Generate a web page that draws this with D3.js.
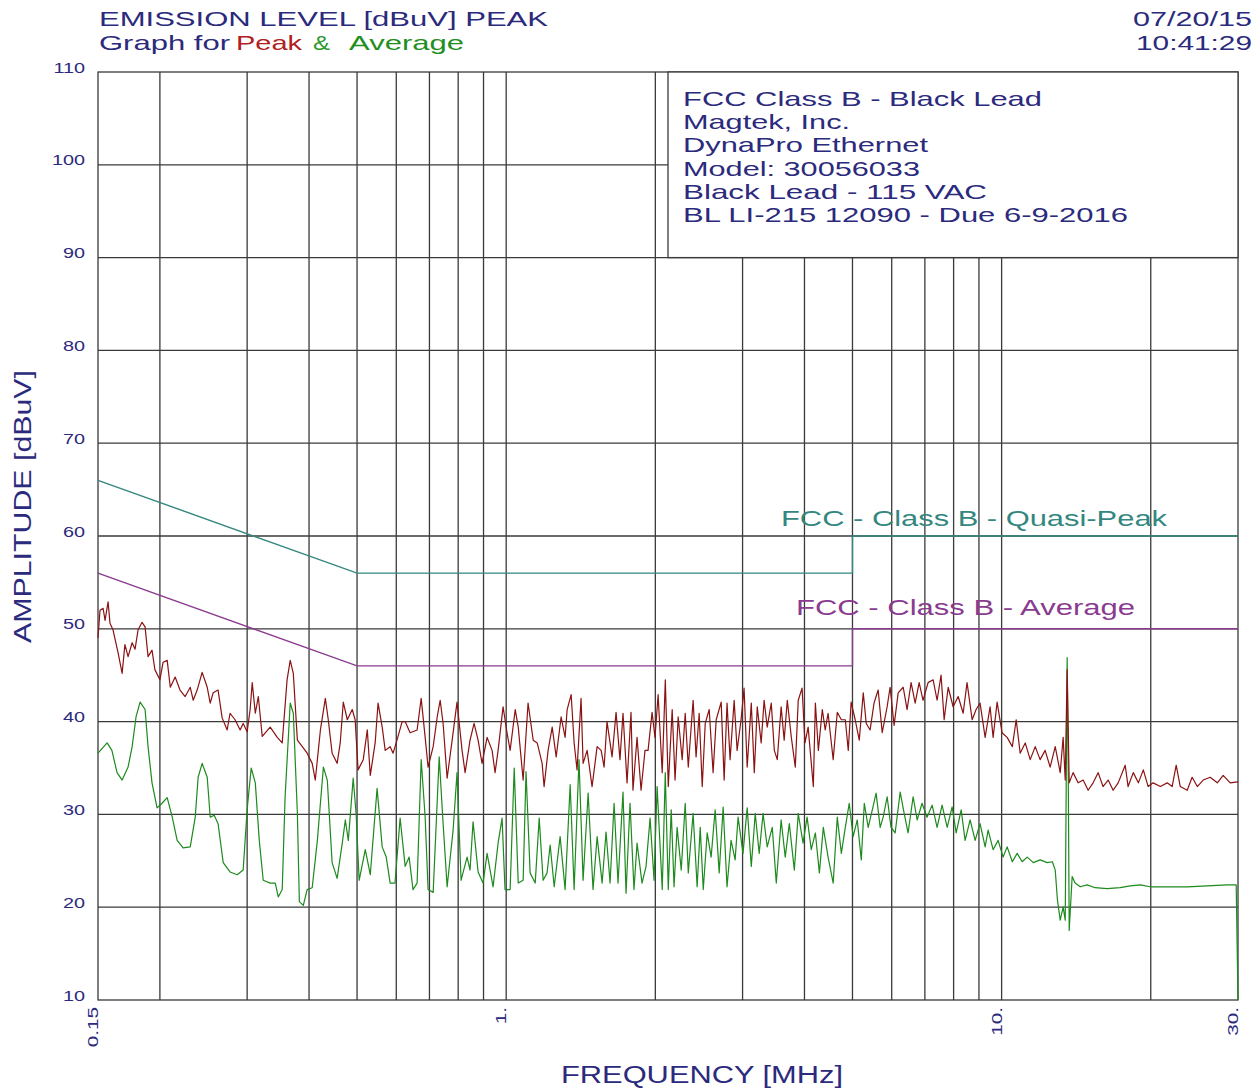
<!DOCTYPE html>
<html lang="en">
<head>
<meta charset="UTF-8">
<title>Emission Level - Peak & Average</title>
<script src="https://d3js.org/d3.v7.min.js"></script>
<style>
  body { margin: 0; background: #fff; }
  svg { display: block; }
  text { font-family: "Liberation Sans", Arial, sans-serif; }
  .grid { stroke: #3a3a3a; stroke-width: 1.3; }
  .navy { fill: #2b2a7c; }
</style>
</head>
<body>
<svg id="chart" width="1259" height="1089"></svg>
<script>
// ---- data ----
const freqLabels = ["0.15", "1.", "10.", "30."];
const freqLabelValues = [0.15, 1, 10, 30];
const gridFreqs = [0.2, 0.3, 0.4, 0.5, 0.6, 0.7, 0.8, 0.9, 1, 2, 3, 4, 5, 6, 7, 8, 9, 10, 20];
const ampTicks = [10, 20, 30, 40, 50, 60, 70, 80, 90, 100, 110];

// FCC Class B conducted limits
const limitFreq = [0.15, 0.5, 5, 5, 30];
const qpLimit = [66, 56, 56, 60, 60];
const avLimit = [56, 46, 46, 50, 50];

const legendLines = [
  "FCC Class B - Black Lead",
  "Magtek, Inc.",
  "DynaPro Ethernet",
  "Model: 30056033",
  "Black Lead - 115 VAC",
  "BL LI-215 12090 - Due 6-9-2016"
];

// peak sweep (MHz, dBuV)
const peakFreq = [
  0.150, 0.1514, 0.1536, 0.1550, 0.1572, 0.1586, 0.1608, 0.1647, 0.1678, 0.1700,
  0.1725, 0.1758, 0.1782, 0.1807, 0.1841, 0.1867, 0.1893, 0.1928, 0.1954, 0.2000,
  0.2030, 0.2069, 0.2099, 0.2147, 0.2196, 0.2249, 0.2303, 0.2335, 0.2378, 0.2434,
  0.2492, 0.2527, 0.2562, 0.2621, 0.2671, 0.2734, 0.2771, 0.2836, 0.2904, 0.2945,
  0.3000, 0.3042, 0.3072, 0.3116, 0.3160, 0.3218, 0.3339, 0.3451, 0.3531, 0.3612,
  0.3665, 0.3718, 0.3789, 0.3877, 0.3965, 0.4059, 0.4118, 0.4217, 0.4315, 0.4374,
  0.4453, 0.4558, 0.4624, 0.4690, 0.4779, 0.4889, 0.4956, 0.5024, 0.5146, 0.5244,
  0.5317, 0.5439, 0.5513, 0.5620, 0.5699, 0.5832,
  0.5912, 0.6020, 0.6166, 0.6253, 0.6398, 0.6610, 0.6736, 0.6862, 0.6956, 0.7122,
  0.7257, 0.7358, 0.7459, 0.7600, 0.7779, 0.7957, 0.8146, 0.8262, 0.8454, 0.8614,
  0.8776, 0.8939, 0.9151, 0.9366, 0.9496, 0.9631, 0.9856, 1.0039, 1.0185, 1.0429,
  1.0576, 1.0820, 1.1070, 1.1337, 1.1551, 1.1818, 1.1925, 1.2151, 1.2384, 1.2616,
  1.2907, 1.3150, 1.3275, 1.3525, 1.3713, 1.3900, 1.4162, 1.4297, 1.4568, 1.4905,
  1.5259, 1.5547, 1.5763, 1.5978, 1.6359, 1.6664, 1.6969, 1.7211, 1.7537, 1.7862,
  1.8026, 1.8371, 1.8716, 1.9064, 1.9336, 1.9700, 1.997, 2.026, 2.065, 2.095, 2.124,
  2.163, 2.192, 2.224, 2.266, 2.298, 2.331, 2.384, 2.417, 2.452, 2.487, 2.522, 2.569,
  2.616, 2.654, 2.716, 2.754, 2.791, 2.831, 2.885, 2.925, 2.979, 3.021, 3.065, 3.124,
  3.168, 3.212, 3.271, 3.316, 3.364, 3.428, 3.477, 3.525, 3.589, 3.640, 3.693, 3.763,
  3.833, 3.886, 3.956, 4.010, 4.069, 4.168, 4.208, 4.267, 4.346, 4.405, 4.464, 4.571,
  4.659, 4.748, 4.836, 4.903, 4.969, 5.063, 5.160, 5.257, 5.330, 5.427, 5.527, 5.634,
  5.741, 5.874, 5.955, 6.067, 6.183, 6.329, 6.445, 6.566, 6.691, 6.816, 6.941, 7.105,
  7.274, 7.409, 7.547, 7.656, 7.801, 7.982, 8.172, 8.363, 8.516, 8.720, 8.882, 9.047,
  9.263, 9.478, 9.613, 9.793, 10.02, 10.26, 10.51, 10.70, 10.90, 11.16, 11.42, 11.69,
  11.96, 12.24, 12.53, 12.83, 13.13, 13.31, 13.44, 13.56, 13.69, 13.94, 14.27, 14.61,
  14.95, 15.30, 15.66, 16.02, 16.41, 16.79, 17.19, 17.76, 18.00, 18.44, 18.88, 19.32,
  19.76, 20.22, 20.91, 21.59, 22.09, 22.51, 22.94, 23.69, 24.24, 24.83, 25.52, 26.36,
  27.25, 28.00, 28.93, 30.00
];
const peakLevel = [
  49.0, 52.0, 52.2, 50.9, 52.9, 50.6, 49.9, 47.4, 45.2, 48.3,
  47.0, 48.5, 47.8, 49.9, 50.7, 50.2, 47.0, 47.7, 45.6, 44.5,
  46.4, 46.6, 43.7, 44.8, 43.4, 42.7, 43.7, 42.3, 43.4, 45.3,
  43.7, 42.0, 43.1, 43.4, 40.4, 39.1, 40.9, 40.2, 39.1, 39.8,
  38.9, 41.3, 44.2, 40.9, 42.7, 38.4, 39.4, 38.3, 37.7, 44.5,
  46.6, 45.2, 38.0, 37.3, 36.6, 35.5, 33.7, 39.1, 42.5, 40.2,
  36.6, 35.5, 37.7, 42.1, 40.2, 41.3, 40.2, 34.8, 35.9, 39.1,
  34.2, 37.7, 42.0, 39.4, 36.9, 37.3,
  36.6, 38.0, 40.0, 40.0, 38.8, 39.1, 42.5, 38.3, 35.1, 37.3,
  40.5, 42.3, 39.8, 33.9, 38.0, 42.1, 36.9, 34.5, 38.0, 39.8,
  38.0, 35.5, 38.3, 36.9, 34.5, 36.9, 41.6, 38.8, 36.9, 41.3,
  39.4, 33.7, 42.0, 38.0, 37.7, 35.5, 33.0, 36.9, 39.4, 36.2,
  40.5, 38.3, 41.3, 42.9, 37.7, 34.8, 42.5, 35.5, 36.9, 33.0,
  37.3, 36.9, 35.1, 40.0, 36.2, 41.0, 35.9, 40.9, 33.4, 41.0,
  32.6, 38.3, 32.6, 36.9, 36.9, 41.0, 38.3, 42.9, 34.5, 44.5, 33.0,
  41.3, 33.7, 40.5, 35.9, 40.9, 35.1, 42.3, 36.2, 40.9, 33.0, 39.8, 41.3,
  34.5, 40.2, 42.1, 33.7, 42.0, 35.9, 42.3, 36.9, 40.2, 43.6, 35.1, 42.0,
  34.5, 41.6, 37.7, 42.3, 39.4, 42.0, 36.9, 35.9, 41.6, 38.0, 42.3, 38.3,
  35.1, 42.3, 43.6, 37.7, 39.4, 33.0, 42.0, 36.9, 41.3, 39.1, 40.9, 35.9,
  41.0, 40.2, 40.2, 36.9, 42.1, 40.2, 38.0, 43.1, 39.8, 39.1, 42.0, 43.4,
  38.8, 41.6, 43.7, 39.6, 43.1, 43.7, 41.3, 44.2, 42.0, 44.2, 42.3, 44.2,
  44.5, 42.3, 45.0, 40.2, 43.7, 41.6, 42.7, 40.9, 44.2, 40.2, 41.3, 42.0,
  38.3, 41.6, 38.3, 42.1, 38.8, 38.3, 37.3, 40.2, 36.6, 37.7, 35.9, 37.3,
  35.9, 36.9, 35.1, 37.3, 34.5, 38.3, 33.7, 45.6, 33.4, 34.5, 33.4, 33.7,
  32.6, 33.4, 34.5, 33.0, 33.7, 32.6, 33.4, 35.3, 33.0, 34.5, 33.4, 34.8,
  33.0, 33.4, 33.0, 33.4, 33.0, 35.3, 33.0, 32.6, 34.0, 33.0, 33.7, 34.0,
  33.4, 34.2, 33.4, 33.5
];

// average sweep (MHz, dBuV)
const avgFreq = [
  0.150, 0.1565, 0.1600, 0.1639, 0.1678, 0.1725, 0.1758, 0.1790, 0.1824, 0.1867,
  0.1893, 0.1928, 0.1974, 0.2020, 0.2069, 0.2118, 0.2167, 0.2228, 0.2303, 0.2357,
  0.2389, 0.2434, 0.2492, 0.2527, 0.2574, 0.2621, 0.2684, 0.2771, 0.2864, 0.2945,
  0.3000, 0.3057, 0.3116, 0.3174, 0.3233, 0.3339, 0.3419, 0.3467, 0.3531, 0.3579,
  0.3665, 0.3718, 0.3789, 0.3824, 0.3895, 0.3965, 0.4059, 0.4158, 0.4276, 0.4354,
  0.4453, 0.4558, 0.4668, 0.4735, 0.4801, 0.4911, 0.4978, 0.5049, 0.5195, 0.5317,
  0.5488, 0.5620, 0.5726, 0.5832, 0.5965, 0.6108, 0.6253, 0.6369, 0.6485, 0.6610,
  0.6736, 0.6862, 0.6956, 0.7122, 0.7324, 0.7459, 0.7600, 0.7814, 0.7957, 0.8108,
  0.8338, 0.8454, 0.8573, 0.8776, 0.8980, 0.9151, 0.9410, 0.9631, 0.9811, 0.9946,
  1.0185, 1.0380, 1.0576, 1.0820, 1.0966, 1.1177, 1.1444, 1.1658, 1.1872, 1.2093,
  1.2267, 1.2500, 1.2849, 1.3150, 1.3463, 1.3713, 1.4027, 1.4297, 1.4635, 1.4973,
  1.5259, 1.5619, 1.5906, 1.6206, 1.6511, 1.6817, 1.7211, 1.7455, 1.7781, 1.8112,
  1.8371, 1.8802, 1.9155, 1.9518, 1.9882, 2.0166, 2.0654, 2.0946, 2.1239, 2.1532,
  2.182, 2.213, 2.256, 2.298, 2.331, 2.384, 2.429, 2.464, 2.499, 2.545,
  2.592, 2.641, 2.691, 2.741, 2.791, 2.844, 2.898, 2.938, 3.006, 3.065,
  3.124, 3.182, 3.241, 3.300, 3.364, 3.444, 3.509, 3.589, 3.658, 3.728,
  3.816, 3.886, 3.974, 4.049, 4.128, 4.208, 4.287, 4.366, 4.464, 4.571,
  4.659, 4.748, 4.836, 4.925, 5.015, 5.112, 5.209, 5.282, 5.379, 5.500,
  5.580, 5.687, 5.767, 5.874, 5.981, 6.096, 6.241, 6.358, 6.474, 6.628,
  6.753, 6.909, 7.071, 7.240, 7.409, 7.583, 7.765, 7.946, 8.095, 8.286,
  8.439, 8.638, 8.842, 9.047, 9.263, 9.392, 9.613, 9.838, 10.07, 10.26,
  10.51, 10.75, 11.00, 11.26, 11.59, 11.96, 12.36, 12.66, 12.83, 12.96,
  13.13, 13.31, 13.44, 13.56, 13.63, 13.69, 13.88, 14.07, 14.41, 14.88,
  15.44, 16.33, 17.35, 18.18, 19.06, 19.94, 21.59, 23.69, 26.00, 28.53,
  29.75, 30.00
];
const avgLevel = [
  36.6, 37.7, 36.9, 34.5, 33.7, 35.1, 37.3, 40.5, 42.1, 41.3,
  37.3, 33.4, 30.7, 31.2, 31.8, 29.7, 27.2, 26.4, 26.5, 29.7,
  34.0, 35.5, 34.0, 29.7, 29.9, 29.0, 24.8, 23.8, 23.5, 24.0,
  30.5, 35.0, 33.4, 27.2, 22.9, 22.6, 22.6, 21.1, 21.9, 31.9,
  42.0, 40.9, 30.1, 20.6, 20.2, 21.9, 22.1, 27.2, 35.1, 33.7,
  24.8, 23.1, 26.9, 29.4, 27.2, 33.9, 30.1, 22.9, 26.2, 23.5,
  32.8, 26.5, 25.4, 22.6, 22.6, 29.6, 24.4, 25.4, 21.9, 22.6,
  35.9, 29.7, 21.9, 21.6, 36.2, 29.0, 22.2, 28.3, 34.5, 22.9,
  25.4, 24.0, 29.2, 23.8, 22.6, 25.8, 22.2, 26.9, 29.6, 21.9,
  21.9, 35.0, 22.6, 22.9, 34.6, 23.7, 22.6, 29.6, 22.9, 23.7,
  26.7, 22.2, 27.6, 21.9, 33.2, 21.9, 35.9, 22.9, 32.3, 21.9,
  27.6, 22.6, 28.1, 22.6, 31.2, 22.6, 32.4, 21.5, 31.2, 21.9,
  26.9, 22.6, 24.4, 29.6, 22.9, 33.0, 21.9, 34.5, 21.9, 30.5,
  22.2, 28.6, 24.0, 31.2, 23.7, 30.1, 22.2, 28.6, 21.9, 28.0,
  25.4, 30.5, 23.7, 30.8, 22.2, 27.2, 25.1, 29.7, 25.8, 30.7,
  24.4, 30.1, 25.8, 30.1, 26.5, 28.6, 22.6, 29.4, 25.4, 29.0,
  24.0, 30.1, 26.9, 29.7, 26.2, 28.0, 23.7, 28.6, 25.4, 22.6,
  29.7, 25.8, 28.6, 31.2, 27.6, 29.4, 25.1, 31.2, 28.6, 30.8,
  32.3, 28.6, 29.7, 31.9, 28.6, 28.0, 32.4, 30.1, 28.0, 31.9,
  29.4, 31.2, 29.7, 31.0, 28.6, 31.0, 28.6, 30.8, 28.0, 30.5,
  27.2, 29.4, 27.2, 29.0, 26.5, 28.3, 26.2, 27.2, 25.4, 26.5,
  24.9, 25.8, 24.9, 25.4, 24.8, 25.1, 24.8, 24.9, 24.0, 20.8,
  18.6, 20.0, 18.6, 46.9, 34.5, 17.5, 23.3, 22.6, 22.2, 22.4,
  22.1, 22.0, 22.1, 22.3, 22.4, 22.2, 22.2, 22.2, 22.3, 22.4,
  22.4, 10.0
];

// ---- layout ----
const svg = d3.select("#chart");
const plotL = 98, plotR = 1238, plotT = 72, plotB = 1000;
const boxLeft = 668;

const x = d3.scaleLog().domain([0.15, 30]).range([plotL, plotR]);
const y = d3.scaleLinear().domain([10, 110]).range([plotB, plotT]);

function stretch(sel, k) {
  sel.each(function () {
    const w = this.getComputedTextLength();
    d3.select(this).attr("textLength", w * k).attr("lengthAdjust", "spacingAndGlyphs");
  });
  return sel;
}
function fit(sel, w) {
  return sel.attr("textLength", w).attr("lengthAdjust", "spacingAndGlyphs");
}

// grid
const grid = svg.append("g");
grid.selectAll("line.v")
  .data(gridFreqs)
  .join("line")
  .attr("class", "grid")
  .attr("x1", d => x(d)).attr("x2", d => x(d))
  .attr("y1", d => x(d) > boxLeft ? y(90) : plotT)
  .attr("y2", plotB);
grid.selectAll("line.h")
  .data(ampTicks.slice(1, -1))
  .join("line")
  .attr("class", "grid")
  .attr("x1", plotL)
  .attr("x2", d => d > 90 ? boxLeft : plotR)
  .attr("y1", d => y(d)).attr("y2", d => y(d));
grid.append("rect")
  .attr("x", plotL).attr("y", plotT)
  .attr("width", plotR - plotL).attr("height", plotB - plotT)
  .attr("fill", "none").attr("stroke", "#3a3a3a").attr("stroke-width", 1.3);

// legend box
svg.append("rect")
  .attr("x", boxLeft).attr("y", plotT)
  .attr("width", plotR - boxLeft).attr("height", y(90) - plotT)
  .attr("fill", "#fff").attr("stroke", "#3a3a3a").attr("stroke-width", 1.3);
const legendWidths = [359, 167, 245, 237, 304, 445];
svg.append("g").selectAll("text")
  .data(legendLines)
  .join("text")
  .attr("class", "navy")
  .attr("x", 683)
  .attr("y", (d, i) => 106 + i * 23.2)
  .attr("font-size", 21)
  .text(d => d)
  .each(function (d, i) { fit(d3.select(this), legendWidths[i]); });

// limit lines
const limitLine = d3.line().x(d => x(d[0])).y(d => y(d[1]));
svg.append("path")
  .datum(d3.zip(limitFreq, qpLimit))
  .attr("d", limitLine)
  .attr("fill", "none").attr("stroke", "#34877f").attr("stroke-width", 1.4);
svg.append("path")
  .datum(d3.zip(limitFreq, avLimit))
  .attr("d", limitLine)
  .attr("fill", "none").attr("stroke", "#8a3b8f").attr("stroke-width", 1.4);

fit(svg.append("text")
  .attr("x", 781).attr("y", 526)
  .attr("font-size", 22).attr("fill", "#34877f")
  .text("FCC - Class B - Quasi-Peak"), 386);
fit(svg.append("text")
  .attr("x", 796).attr("y", 615)
  .attr("font-size", 22).attr("fill", "#8a3b8f")
  .text("FCC - Class B - Average"), 339);

// traces
const trace = d3.line().x(d => x(d[0])).y(d => y(d[1]));
svg.append("path")
  .datum(d3.zip(avgFreq, avgLevel))
  .attr("d", trace)
  .attr("fill", "none").attr("stroke", "#1d8a1d").attr("stroke-width", 1.2)
  .attr("stroke-linejoin", "round");
svg.append("path")
  .datum(d3.zip(peakFreq, peakLevel))
  .attr("d", trace)
  .attr("fill", "none").attr("stroke", "#8b1212").attr("stroke-width", 1.2)
  .attr("stroke-linejoin", "round");

// y tick labels
svg.append("g").selectAll("text")
  .data(ampTicks)
  .join("text")
  .attr("class", "navy")
  .attr("font-size", 15)
  .attr("y", d => y(d) + 0.5)
  .text(d => d)
  .each(function () {
    const w = this.getComputedTextLength() * 1.32;
    d3.select(this).attr("x", 85 - w).attr("textLength", w).attr("lengthAdjust", "spacingAndGlyphs");
  });

// x tick labels (rotated)
svg.append("g").selectAll("text")
  .data(freqLabelValues)
  .join("text")
  .attr("class", "navy")
  .attr("font-size", 15)
  .attr("text-anchor", "end")
  .attr("transform", d => `translate(${x(d)},1007) rotate(-90)`)
  .text((d, i) => freqLabels[i])
  .call(stretch, 1.38);

// axis titles
fit(svg.append("text")
  .attr("class", "navy")
  .attr("font-size", 24)
  .attr("transform", "translate(31,643) rotate(-90)")
  .text("AMPLITUDE [dBuV]"), 273);
fit(svg.append("text")
  .attr("class", "navy")
  .attr("x", 561).attr("y", 1083)
  .attr("font-size", 23)
  .text("FREQUENCY [MHz]"), 282);

// header (two lines, kept just apart)
const hSize = 21;
fit(svg.append("text").attr("class", "navy").attr("x", 99).attr("y", 26)
  .attr("font-size", hSize).text("EMISSION LEVEL [dBuV] PEAK"), 449);
fit(svg.append("text").attr("class", "navy").attr("x", 99).attr("y", 50)
  .attr("font-size", hSize).text("Graph for"), 131);
fit(svg.append("text").attr("x", 236).attr("y", 50).attr("fill", "#b0201e")
  .attr("font-size", hSize).text("Peak"), 66);
fit(svg.append("text").attr("x", 313).attr("y", 50).attr("fill", "#2c9a2c")
  .attr("font-size", hSize).text("&"), 17);
fit(svg.append("text").attr("x", 349).attr("y", 50).attr("fill", "#1f8f1f")
  .attr("font-size", hSize).text("Average"), 115);
fit(svg.append("text").attr("class", "navy").attr("x", 1133).attr("y", 26)
  .attr("font-size", hSize).text("07/20/15"), 119);
fit(svg.append("text").attr("class", "navy").attr("x", 1136).attr("y", 50)
  .attr("font-size", hSize).text("10:41:29"), 116);
</script>
</body>
</html>
